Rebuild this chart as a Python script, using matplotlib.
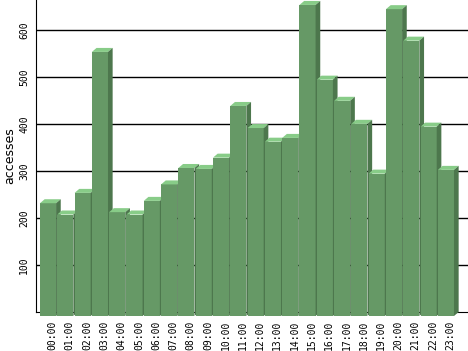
import matplotlib
matplotlib.use("Agg")
import matplotlib.pyplot as plt
from matplotlib.patches import Polygon, Rectangle

# accesses per hour of day
hours = ["%02d:00" % h for h in range(24)]
accesses = [240, 216, 262, 562, 221, 216, 245, 280, 315, 313, 337, 447,
            400, 371, 379, 662, 503, 458, 409, 303, 653, 586, 403, 311]
yticks = [100, 200, 300, 400, 500, 600]

front_col = "#669966"
top_col = "#88cc88"
side_col = "#4d774d"

fig = plt.figure(figsize=(4.68, 3.51), dpi=100)
ax = fig.add_axes([36 / 468, 39 / 351, 1 - 36 / 468, 1 - 39 / 351])

w = 0.93      # front face width (bar units)
dx = 0.27     # depth offset in x
dy = 8.5      # depth offset in y (value units)

for i, v in enumerate(accesses):
    x0 = i
    # front face
    ax.add_patch(Rectangle((x0, -dy), w, v, facecolor=front_col,
                           edgecolor="none", zorder=3, clip_on=False))
    # top face
    ax.add_patch(Polygon([(x0, v - dy), (x0 + dx, v), (x0 + w + dx, v),
                          (x0 + w, v - dy)], closed=True,
                         facecolor=top_col, edgecolor="none", zorder=3,
                         clip_on=False))
    # side face
    ax.add_patch(Polygon([(x0 + w, -dy), (x0 + w + dx, 0), (x0 + w + dx, v),
                          (x0 + w, v - dy)], closed=True,
                         facecolor=side_col, edgecolor="none", zorder=3,
                         clip_on=False))

for t in yticks:
    ax.axhline(t, color="black", lw=1, zorder=1)

ax.set_xlim(-0.23, 24.74)
ax.set_ylim(0, 664)

ax.set_yticks(yticks)
ax.set_yticklabels([str(t) for t in yticks], rotation=90, va="center",
                   family="DejaVu Sans Mono", fontsize=7)
ax.set_xticks([i + 0.72 for i in range(24)])
ax.set_xticklabels(hours, rotation=90, family="DejaVu Sans Mono", fontsize=7)
ax.tick_params(axis="both", length=0)
ax.tick_params(axis="y", pad=5)
ax.tick_params(axis="x", pad=6)

ax.spines["top"].set_visible(False)
ax.spines["right"].set_visible(False)
ax.spines["left"].set_color("black")
ax.spines["bottom"].set_color("black")

ax.set_ylabel("accesses", fontsize=9, labelpad=2)

fig.savefig("out.png", dpi=100)
